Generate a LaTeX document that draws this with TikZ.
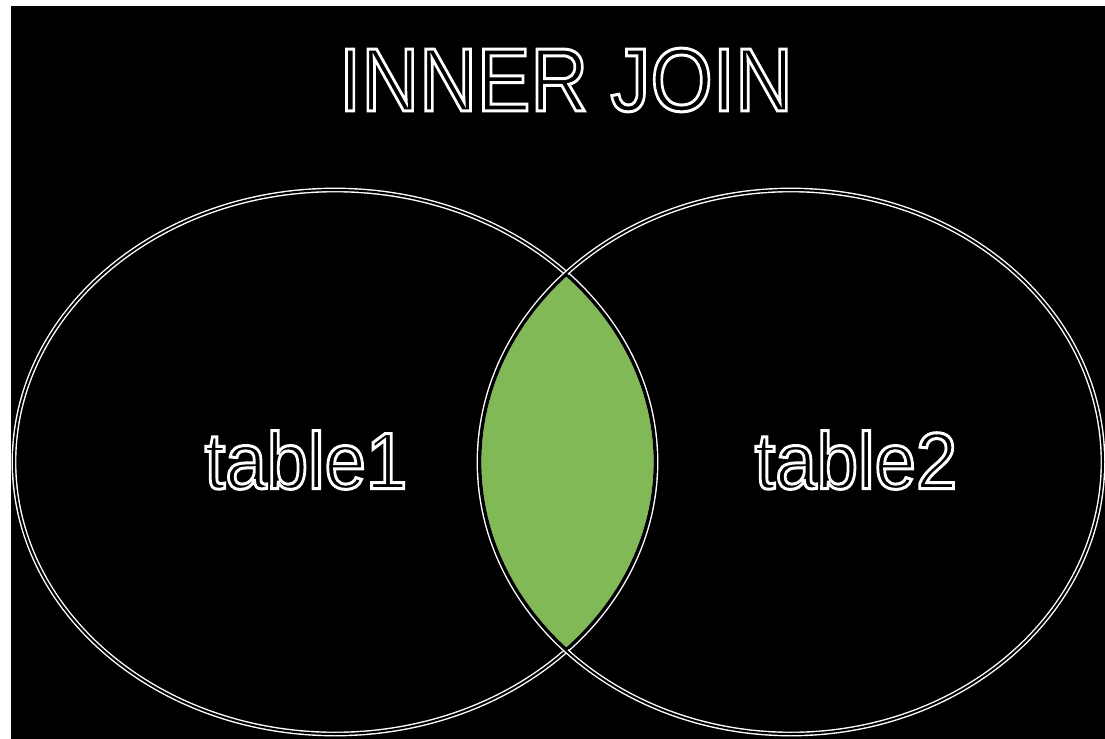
\documentclass[tikz,border=0pt]{standalone}
\usepackage{fontspec}
\setmainfont{Liberation Sans}
\definecolor{lensgreen}{RGB}{128,185,85}
% white outline, black inside (text render mode 2)
\newcommand{\outlined}[1]{\special{pdf:literal direct 2 Tr 1.5 w 1 1 1 RG}#1\special{pdf:literal direct 0 Tr}}
\tikzset{
  ring/.style={draw=white, double=black, line width=0.7pt, double distance=1pt},
  label/.style={inner sep=0pt, text=black}
}
\begin{document}
\begin{tikzpicture}[x=0.5pt, y=-0.5pt]
\fill[white] (0,0) rectangle (1105,739);
\fill[black] (11,6) rectangle (1105,739);
\useasboundingbox (0,0) rectangle (1105,739);
\begin{scope}
\clip (335,462) ellipse [x radius=321, y radius=272];
\fill[lensgreen] (791,462) ellipse [x radius=312, y radius=272];
\end{scope}
\draw[ring] (335,462) ellipse [x radius=321, y radius=272];
\draw[ring] (791,462) ellipse [x radius=312, y radius=272];
\begin{scope}
\clip (335,462) ellipse [x radius=321, y radius=272];
\clip (791,462) ellipse [x radius=312, y radius=272];
\draw[black, line width=2.4pt] (335,462) ellipse [x radius=321, y radius=272];
\draw[black, line width=2.4pt] (791,462) ellipse [x radius=312, y radius=272];
\end{scope}
\node[label, xscale=0.89] (title) at (566,80) {\fontsize{45}{50}\selectfont\outlined{INNER JOIN}};
\node[label, xscale=0.93] (t1) at (306,460) {\fontsize{40}{44}\selectfont\outlined{table1}};
\node[label, xscale=0.93] (t2) at (856,460) {\fontsize{40}{44}\selectfont\outlined{table2}};
\end{tikzpicture}
\end{document}
